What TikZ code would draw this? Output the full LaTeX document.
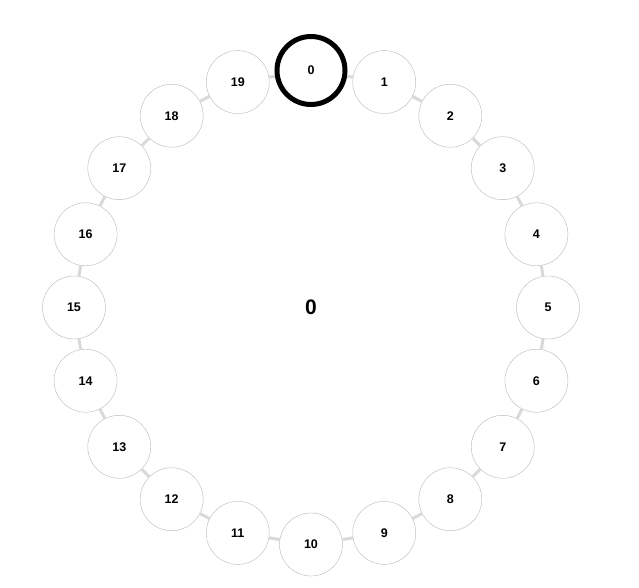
\documentclass[tikz,border=0pt]{standalone}
\usepackage{fontspec}
\setmainfont{Liberation Sans}
\usepackage{tikz}
\definecolor{ringColor}{rgb}{0.85,0.85,0.85}
\definecolor{borderColor}{rgb}{0.72,0.72,0.72}

\begin{document}
\begin{tikzpicture}[x=1pt,y=1pt]

          \tikzstyle{normalNode} = [circle, draw=borderColor, fill=white, inner sep=0pt, minimum size=63pt, font=\fontsize{12.5}{15}\selectfont\bfseries];
          \tikzstyle{focusNode} = [circle, draw=black, line width=5pt, fill=white, inner sep=0pt, minimum size=68pt, font=\fontsize{12.5}{15}\selectfont\bfseries];
          \tikzstyle{centerNode} = [font=\fontsize{21}{25}\selectfont\bfseries];

          \tikzstyle{ringEdge} = [line width=3pt, ringColor];

          \useasboundingbox (-311,-280.5) rectangle (328,307.5);

          \node[centerNode] (value) at (0,0) {0};

          \node[focusNode] (n0) at (90:237) {0};
          \node[normalNode] (n1) at (72:237) {1};
          \node[normalNode] (n2) at (54:237) {2};
          \node[normalNode] (n3) at (36:237) {3};
          \node[normalNode] (n4) at (18:237) {4};
          \node[normalNode] (n5) at (0:237) {5};
          \node[normalNode] (n6) at (-18:237) {6};
          \node[normalNode] (n7) at (-36:237) {7};
          \node[normalNode] (n8) at (-54:237) {8};
          \node[normalNode] (n9) at (-72:237) {9};
          \node[normalNode] (n10) at (-90:237) {10};
          \node[normalNode] (n11) at (-108:237) {11};
          \node[normalNode] (n12) at (-126:237) {12};
          \node[normalNode] (n13) at (-144:237) {13};
          \node[normalNode] (n14) at (-162:237) {14};
          \node[normalNode] (n15) at (180:237) {15};
          \node[normalNode] (n16) at (162:237) {16};
          \node[normalNode] (n17) at (144:237) {17};
          \node[normalNode] (n18) at (126:237) {18};
          \node[normalNode] (n19) at (108:237) {19};

          \draw[ringEdge] (n0) -- (n1);
          \draw[ringEdge] (n1) -- (n2);
          \draw[ringEdge] (n2) -- (n3);
          \draw[ringEdge] (n3) -- (n4);
          \draw[ringEdge] (n4) -- (n5);
          \draw[ringEdge] (n5) -- (n6);
          \draw[ringEdge] (n6) -- (n7);
          \draw[ringEdge] (n7) -- (n8);
          \draw[ringEdge] (n8) -- (n9);
          \draw[ringEdge] (n9) -- (n10);
          \draw[ringEdge] (n10) -- (n11);
          \draw[ringEdge] (n11) -- (n12);
          \draw[ringEdge] (n12) -- (n13);
          \draw[ringEdge] (n13) -- (n14);
          \draw[ringEdge] (n14) -- (n15);
          \draw[ringEdge] (n15) -- (n16);
          \draw[ringEdge] (n16) -- (n17);
          \draw[ringEdge] (n17) -- (n18);
          \draw[ringEdge] (n18) -- (n19);
          \draw[ringEdge] (n19) -- (n0);
        \end{tikzpicture}
\end{document}
